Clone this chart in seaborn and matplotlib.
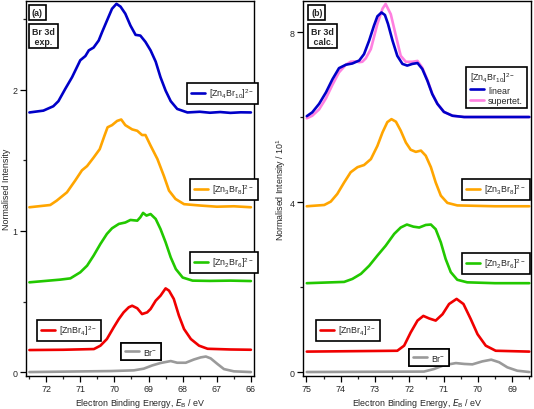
import numpy as np
import pandas as pd
import matplotlib
matplotlib.use("Agg")
import matplotlib.pyplot as plt
from matplotlib.ticker import MultipleLocator
import seaborn as sns

# =========================================================
# DATA
# =========================================================

# (a) experimental spectra
exp_zn4_e = [72.49, 72.08, 71.79, 71.64, 71.44, 71.24, 71.0, 70.85, 70.75, 70.61, 70.46, 70.36,
             70.22, 70.07, 69.94, 69.82, 69.68, 69.53, 69.38, 69.24, 69.09, 68.94, 68.79, 68.65,
             68.5, 68.35, 68.16, 67.86, 67.5, 67.2, 66.9, 66.6, 66.3, 66.0]
exp_zn4_i = [1.84, 1.853, 1.884, 1.92, 2.007, 2.09, 2.21, 2.24, 2.28, 2.30, 2.35, 2.41,
             2.49, 2.575, 2.61, 2.59, 2.54, 2.456, 2.39, 2.385, 2.34, 2.28, 2.20, 2.09,
             1.995, 1.92, 1.865, 1.84, 1.845, 1.838, 1.843, 1.837, 1.841, 1.84]

exp_zn3_e = [72.49, 71.88, 71.69, 71.39, 71.15, 70.95, 70.8, 70.61, 70.43, 70.29, 70.2, 70.07,
             69.92, 69.8, 69.68, 69.48, 69.33, 69.19, 69.09, 68.94, 68.74, 68.55, 68.4, 68.21,
             67.96, 67.47, 67.0, 66.5, 66.0]
exp_zn3_i = [1.168, 1.184, 1.215, 1.274, 1.357, 1.43, 1.46, 1.52, 1.58, 1.676, 1.735, 1.75,
             1.78, 1.79, 1.75, 1.72, 1.71, 1.68, 1.68, 1.605, 1.51, 1.39, 1.286, 1.227,
             1.19, 1.18, 1.172, 1.175, 1.168]

exp_zn2_e = [72.49, 71.59, 71.29, 71.0, 70.8, 70.61, 70.41, 70.22, 70.07, 69.87, 69.68, 69.53,
             69.33, 69.24, 69.16, 69.06, 68.94, 68.79, 68.65, 68.5, 68.35, 68.2, 68.0, 67.71,
             67.2, 66.6, 66.0]
exp_zn2_i = [0.636, 0.655, 0.664, 0.707, 0.754, 0.825, 0.908, 0.979, 1.019, 1.05, 1.06, 1.078,
             1.073, 1.097, 1.128, 1.109, 1.12, 1.085, 1.014, 0.92, 0.813, 0.73, 0.67, 0.648,
             0.646, 0.648, 0.645]

exp_zn1_e = [72.49, 71.5, 70.6, 70.41, 70.22, 70.02, 69.87, 69.73, 69.58, 69.48, 69.33, 69.19,
             69.04, 68.94, 68.79, 68.65, 68.5, 68.4, 68.26, 68.11, 67.96, 67.76, 67.52, 67.27,
             66.6, 66.0]
exp_zn1_i = [0.156, 0.158, 0.163, 0.187, 0.234, 0.317, 0.376, 0.423, 0.459, 0.47, 0.452, 0.411,
             0.423, 0.447, 0.506, 0.541, 0.593, 0.577, 0.518, 0.40, 0.305, 0.234, 0.187, 0.165,
             0.16, 0.158]

exp_br_e = [72.49, 70.1, 69.43, 69.14, 68.89, 68.65, 68.35, 68.16, 67.91, 67.67, 67.47, 67.32,
            67.18, 66.98, 66.79, 66.5, 66.0]
exp_br_i = [0.0, 0.007, 0.012, 0.024, 0.047, 0.064, 0.078, 0.066, 0.066, 0.089, 0.104, 0.11,
            0.097, 0.057, 0.021, 0.005, 0.0]

# (b) calculated spectra
calc_lin_e = [74.99, 74.83, 74.63, 74.43, 74.24, 74.05, 73.85, 73.66, 73.46, 73.32, 73.17, 73.03,
              72.93, 72.81, 72.71, 72.62, 72.49, 72.35, 72.2, 72.06, 71.91, 71.76, 71.62, 71.47,
              71.33, 71.18, 70.99, 70.74, 70.4, 69.5, 68.5]
calc_lin_i = [6.02, 6.11, 6.31, 6.58, 6.89, 7.15, 7.23, 7.26, 7.33, 7.48, 7.8, 8.15,
              8.37, 8.46, 8.4, 8.19, 7.8, 7.44, 7.25, 7.21, 7.25, 7.27, 7.13, 6.85,
              6.54, 6.31, 6.12, 6.03, 6.0, 6.0, 6.0]

calc_sup_e = [74.99, 74.83, 74.63, 74.43, 74.24, 74.05, 73.85, 73.71, 73.56, 73.46, 73.37, 73.27,
              73.12, 72.93, 72.78, 72.69, 72.54, 72.39, 72.25, 72.1, 71.91, 71.76, 71.62, 71.47,
              71.33, 71.18, 70.99, 70.74, 70.4, 69.5, 68.5]
calc_sup_i = [5.97, 6.03, 6.18, 6.44, 6.76, 7.05, 7.23, 7.30, 7.31, 7.29, 7.30, 7.38,
              7.6, 8.19, 8.55, 8.66, 8.42, 7.91, 7.44, 7.3, 7.3, 7.32, 7.16, 6.87,
              6.55, 6.31, 6.12, 6.03, 6.0, 6.0, 6.0]

calc_zn3_e = [74.99, 74.48, 74.29, 74.1, 73.9, 73.71, 73.51, 73.32, 73.12, 72.93, 72.78, 72.64,
              72.52, 72.39, 72.25, 72.1, 71.96, 71.81, 71.66, 71.52, 71.37, 71.23, 71.08, 70.89,
              70.6, 69.5, 68.5]
calc_zn3_i = [3.9, 3.93, 4.01, 4.19, 4.46, 4.7, 4.82, 4.87, 5.01, 5.32, 5.64, 5.88,
              5.95, 5.89, 5.68, 5.4, 5.23, 5.18, 5.21, 5.09, 4.82, 4.46, 4.15, 3.98,
              3.92, 3.9, 3.9]

calc_zn2_e = [74.99, 73.9, 73.66, 73.41, 73.17, 72.93, 72.69, 72.44, 72.25, 72.07, 71.88, 71.71,
              71.52, 71.37, 71.23, 71.08, 70.94, 70.79, 70.6, 70.31, 69.5, 68.5]
calc_zn2_i = [2.09, 2.12, 2.19, 2.31, 2.5, 2.74, 2.97, 3.25, 3.4, 3.47, 3.42, 3.4,
              3.46, 3.47, 3.36, 3.05, 2.66, 2.35, 2.17, 2.11, 2.09, 2.09]

calc_zn1_e = [74.99, 72.35, 72.15, 71.96, 71.76, 71.59, 71.42, 71.23, 71.03, 70.84, 70.62, 70.42,
              70.21, 70.01, 69.77, 69.48, 68.5]
calc_zn1_i = [0.48, 0.5, 0.62, 0.93, 1.21, 1.32, 1.26, 1.21, 1.36, 1.6, 1.72, 1.6,
              1.25, 0.89, 0.62, 0.5, 0.48]

calc_br_e = [74.99, 71.57, 71.28, 70.99, 70.64, 70.4, 70.16, 69.87, 69.61, 69.38, 69.14, 68.85, 68.5]
calc_br_i = [0.0, 0.01, 0.07, 0.16, 0.21, 0.19, 0.18, 0.25, 0.29, 0.23, 0.11, 0.03, 0.0]

# =========================================================
# STYLE
# =========================================================

sns.set_style("ticks")
plt.rcParams["font.family"] = ["Liberation Sans", "DejaVu Sans"]
plt.rcParams["mathtext.default"] = "regular"
plt.rcParams["axes.linewidth"] = 1.0

BLUE = "#0000c8"
ORANGE = "#ffa500"
GREEN = "#22c800"
RED = "#f00000"
GRAY = "#9a9a9a"
PINK = "#ff80e0"
LW = 1.9
FS = 6.4

W, H = 534, 410
fig = plt.figure(figsize=(W / 100, H / 100), dpi=100)
ax_a = fig.add_axes([26 / W, 1 - 377 / H, 228 / W, 375 / H])
ax_b = fig.add_axes([303 / W, 1 - 377 / H, 228 / W, 375 / H])


def draw(ax, e, i, color):
    sns.lineplot(x=e, y=i, ax=ax, color=color, lw=LW, sort=False,
                 estimator=None, legend=False)
    return ax.lines[-1]


def add_legend(ax, handles, labels, px, py, title=None):
    leg = ax.legend(handles, labels, loc="upper left",
                    bbox_to_anchor=(px / W, 1 - py / H),
                    bbox_transform=fig.transFigure,
                    fontsize=FS, title=title, title_fontsize=FS,
                    frameon=True, fancybox=False, edgecolor="black",
                    framealpha=1, borderpad=0.4, handlelength=1.6,
                    handletextpad=0.5, borderaxespad=0, labelspacing=0.15)
    leg.get_frame().set_linewidth(1.2)
    if title:
        leg._legend_box.align = "left"
    ax.add_artist(leg)


def label_box(ax, px, py, txt):
    ax.text(px / W, 1 - py / H, txt, transform=fig.transFigure, fontsize=FS,
            fontweight="bold", ha="left", va="top", linespacing=1.1,
            bbox=dict(boxstyle="square,pad=0.3", fc="white", ec="black", lw=1.2))


def style_axis(ax, xlim, ylim, ymaj, ymin, ylabel, labelpad):
    ax.set_xlim(*xlim)
    ax.set_ylim(*ylim)
    ax.xaxis.set_major_locator(MultipleLocator(1))
    ax.xaxis.set_minor_locator(MultipleLocator(0.5))
    ax.yaxis.set_major_locator(MultipleLocator(ymaj))
    ax.yaxis.set_minor_locator(MultipleLocator(ymin))
    ax.tick_params(which="major", direction="out", length=4, width=0.9,
                   labelsize=FS, pad=2, color="black")
    ax.tick_params(which="minor", direction="out", length=2.5, width=0.9)
    for s in ax.spines.values():
        s.set_visible(True)
        s.set_color("black")
    ax.set_xlabel("Electron Binding Energy, $\\mathit{E}_\\mathrm{B}$ / eV",
                  fontsize=FS, labelpad=2)
    ax.set_ylabel(ylabel, fontsize=FS, labelpad=labelpad)


# =========================================================
# PANEL (a) EXPERIMENT
# =========================================================

h4 = draw(ax_a, exp_zn4_e, exp_zn4_i, BLUE)
h3 = draw(ax_a, exp_zn3_e, exp_zn3_i, ORANGE)
h2 = draw(ax_a, exp_zn2_e, exp_zn2_i, GREEN)
h1 = draw(ax_a, exp_zn1_e, exp_zn1_i, RED)
hb = draw(ax_a, exp_br_e, exp_br_i, GRAY)

style_axis(ax_a, (72.59, 65.91), (-0.028, 2.63), 1, 0.5, "Normalised Intensity", 1)

add_legend(ax_a, [h4], ["[Zn$_4$Br$_{10}$]$^{2-}$"], 187, 84)
add_legend(ax_a, [h3], ["[Zn$_3$Br$_8$]$^{2-}$"], 190, 180)
add_legend(ax_a, [h2], ["[Zn$_2$Br$_6$]$^{2-}$"], 190, 253)
add_legend(ax_a, [h1], ["[ZnBr$_4$]$^{2-}$"], 37, 321)
add_legend(ax_a, [hb], ["Br$^{-}$"], 121, 344)

label_box(ax_a, 32, 9, "(a)")
label_box(ax_a, 32, 28, "Br 3d\n exp.")

# =========================================================
# PANEL (b) CALCULATION
# =========================================================

hs = draw(ax_b, calc_sup_e, calc_sup_i, PINK)
hl = draw(ax_b, calc_lin_e, calc_lin_i, BLUE)
g3 = draw(ax_b, calc_zn3_e, calc_zn3_i, ORANGE)
g2 = draw(ax_b, calc_zn2_e, calc_zn2_i, GREEN)
g1 = draw(ax_b, calc_zn1_e, calc_zn1_i, RED)
gb = draw(ax_b, calc_br_e, calc_br_i, GRAY)

style_axis(ax_b, (75.1, 68.45), (-0.094, 8.73), 4, 2,
           "Normalised Intensity / 10$^{1}$", 1)

add_legend(ax_b, [hl, hs], ["linear", "supertet."], 466, 68,
           title="[Zn$_4$Br$_{10}$]$^{2-}$")
add_legend(ax_b, [g3], ["[Zn$_3$Br$_8$]$^{2-}$"], 462, 180)
add_legend(ax_b, [g2], ["[Zn$_2$Br$_6$]$^{2-}$"], 462, 254)
add_legend(ax_b, [g1], ["[ZnBr$_4$]$^{2-}$"], 316, 321)
add_legend(ax_b, [gb], ["Br$^{-}$"], 409, 350)

label_box(ax_b, 311, 9, "(b)")
label_box(ax_b, 311, 28, "Br 3d\n calc.")

plt.savefig("out.png", dpi=100)
